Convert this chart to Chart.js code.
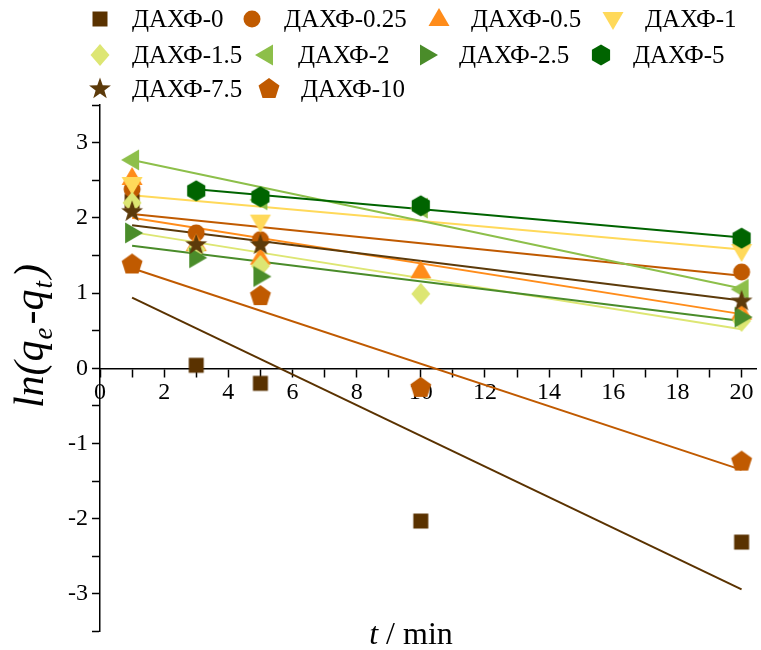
<!DOCTYPE html>
<html>
<head>
<meta charset="utf-8">
<title>ln(qe-qt) vs t</title>
<script src="https://cdn.jsdelivr.net/npm/chart.js@4.4.1/dist/chart.umd.min.js"></script>
<style>
    html, body { margin: 0; padding: 0; background: #fff; }
    #wrap { width: 761px; height: 650px; position: relative; }
</style>
</head>
<body>
<div id="wrap"><canvas id="kineticsChart"></canvas></div>
<script>
// Pseudo-first-order plot: ln(qe - qt) against contact time

const times = [1, 3, 5, 10, 20];
const seriesNames = ['ДАХФ-0', 'ДАХФ-0.25', 'ДАХФ-0.5', 'ДАХФ-1', 'ДАХФ-1.5',
    'ДАХФ-2', 'ДАХФ-2.5', 'ДАХФ-5', 'ДАХФ-7.5', 'ДАХФ-10'];

// measured points, one value per time (null = no point)
const daxf0 = [2.22, 0.04, -0.20, -2.03, -2.31];
const daxf025 = [2.38, 1.80, 1.71, null, 1.28];
const daxf05 = [2.53, 1.65, 1.47, 1.29, 0.74];
const daxf1 = [2.45, null, 1.95, null, 1.56];
const daxf15 = [2.20, 1.58, 1.36, 0.99, 0.63];
const daxf2 = [2.77, null, 2.24, 2.13, 1.05];
const daxf25 = [1.80, 1.47, 1.22, null, 0.68];
const daxf5 = [null, 2.36, 2.28, 2.16, 1.73];
const daxf75 = [2.08, 1.64, 1.64, null, 0.89];
const daxf10 = [1.38, null, 0.96, -0.26, -1.24];
const seriesValues = [daxf0, daxf025, daxf05, daxf1, daxf15, daxf2, daxf25, daxf5, daxf75, daxf10];

// linear fits, read at their end points
const fitStartX = [1, 1, 1, 1, 1, 1, 1, 3, 1, 1];
const fitStartY = [0.94, 2.05, 2.00, 2.30, 1.81, 2.77, 1.63, 2.38, 1.90, 1.33];
const fitEndX = [20, 20, 20, 20, 20, 20, 20, 20, 20, 20];
const fitEndY = [-2.94, 1.23, 0.72, 1.58, 0.52, 1.06, 0.63, 1.74, 0.90, -1.35];

const xTickLabels = ['0', '2', '4', '6', '8', '10', '12', '14', '16', '18', '20'];
const yTickLabels = ['-3', '-2', '-1', '0', '1', '2', '3'];

const colors = ['#5a3200', '#c05a00', '#ff8c1a', '#ffd95a', '#dde673',
    '#8dbf4a', '#4a8c2a', '#006400', '#5c3a0a', '#c05a00'];
const shapes = ['square', 'circle', 'up', 'down', 'diamond',
    'left', 'right', 'hexagon', 'star', 'pentagon'];

const SERIF = "'Liberation Serif', 'Times New Roman', serif";

function polygon(g, n, r, rot) {
    for (let k = 0; k < n; k++) {
        const a = rot + k * 2 * Math.PI / n;
        const px = r * Math.cos(a), py = r * Math.sin(a);
        if (k === 0) g.moveTo(px, py); else g.lineTo(px, py);
    }
    g.closePath();
}

function path(g, pts) {
    pts.forEach((p, k) => k === 0 ? g.moveTo(p[0], p[1]) : g.lineTo(p[0], p[1]));
    g.closePath();
}

function makeMarker(shape, color) {
    const size = 26;
    const c = document.createElement('canvas');
    c.width = size;
    c.height = size;
    const g = c.getContext('2d');
    g.translate(size / 2, size / 2);
    g.fillStyle = color;
    g.beginPath();
    switch (shape) {
        case 'square': g.rect(-7.5, -7.5, 15, 15); break;
        case 'circle': g.arc(0, 0, 8.5, 0, Math.PI * 2); break;
        case 'up': path(g, [[0, -11], [10.5, 7], [-10.5, 7]]); break;
        case 'down': path(g, [[0, 11], [10.5, -7], [-10.5, -7]]); break;
        case 'left': path(g, [[-11, 0], [7, -10.5], [7, 10.5]]); break;
        case 'right': path(g, [[11, 0], [-7, -10.5], [-7, 10.5]]); break;
        case 'diamond': path(g, [[0, -11], [9.5, 0], [0, 11], [-9.5, 0]]); break;
        case 'hexagon': polygon(g, 6, 10.5, -Math.PI / 2); break;
        case 'pentagon': polygon(g, 5, 11, -Math.PI / 2); break;
        case 'star': {
            for (let k = 0; k < 10; k++) {
                const r = k % 2 === 0 ? 11.5 : 4.6;
                const a = -Math.PI / 2 + k * Math.PI / 5;
                if (k === 0) g.moveTo(r * Math.cos(a), r * Math.sin(a));
                else g.lineTo(r * Math.cos(a), r * Math.sin(a));
            }
            g.closePath();
            break;
        }
    }
    g.fill();
    return c;
}

const markers = shapes.map((s, i) => makeMarker(s, colors[i]));

// legend slots (marker x, row y)
const legendSlots = [
    [100, 19], [252, 19], [439, 19], [613, 19],
    [100, 55], [266, 55], [427, 55], [601, 55],
    [100, 89], [269, 89]
];

const drawExtras = {
    id: 'drawExtras',
    afterDraw(chart) {
        const ctx = chart.ctx;
        ctx.save();

        // legend
        ctx.font = '25px ' + SERIF;
        ctx.fillStyle = '#000';
        ctx.textBaseline = 'middle';
        ctx.textAlign = 'left';
        seriesNames.forEach((name, i) => {
            const [lx, ly] = legendSlots[i];
            const m = markers[i];
            ctx.drawImage(m, lx - m.width / 2, ly - m.height / 2);
            ctx.fillText(name, lx + 32, ly + 1);
        });

        // x title: t / min
        ctx.textBaseline = 'alphabetic';
        ctx.font = 'italic 32px ' + SERIF;
        const tW = ctx.measureText('t').width;
        ctx.font = '32px ' + SERIF;
        const restW = ctx.measureText(' / min').width;
        let x0 = 411 - (tW + restW) / 2;
        ctx.font = 'italic 32px ' + SERIF;
        ctx.fillText('t', x0, 644);
        ctx.font = '32px ' + SERIF;
        ctx.fillText(' / min', x0 + tW, 644);

        // y title: ln(qe-qt), rotated
        ctx.translate(43, 336);
        ctx.rotate(-Math.PI / 2);
        const parts = [
            ['ln(q', 42, 0, 1], ['e', 27, 9, 3], ['-q', 42, 0, 1], ['t', 27, 9, 3], [')', 42, 0, 0]
        ];
        let total = 0;
        parts.forEach(p => {
            ctx.font = 'italic ' + p[1] + 'px ' + SERIF;
            total += ctx.measureText(p[0]).width + p[3];
        });
        let cx = -total / 2;
        parts.forEach(p => {
            ctx.font = 'italic ' + p[1] + 'px ' + SERIF;
            ctx.fillText(p[0], cx, p[2]);
            cx += ctx.measureText(p[0]).width + p[3];
        });
        ctx.restore();
    }
};

function initKineticsChart() {
    const ctx = document.getElementById('kineticsChart');
    if (!ctx) return;

    const fitSets = seriesNames.map((name, i) => ({
        label: name + ' fit',
        data: [{ x: fitStartX[i], y: fitStartY[i] }, { x: fitEndX[i], y: fitEndY[i] }],
        showLine: true,
        borderColor: colors[i],
        borderWidth: 2,
        pointRadius: 0,
        order: 100 - i
    }));

    const pointSets = seriesNames.map((name, i) => ({
        label: name,
        data: times.map((t, j) => ({ x: t, y: seriesValues[i][j] })).filter(p => p.y !== null),
        showLine: false,
        pointStyle: markers[i],
        backgroundColor: colors[i],
        borderColor: colors[i],
        order: 50 - i
    }));

    new Chart(ctx, {
        type: 'scatter',
        data: { datasets: fitSets.concat(pointSets) },
        options: {
            responsive: true,
            maintainAspectRatio: false,
            animation: false,
            devicePixelRatio: 1,
            layout: { padding: { left: 0, top: 105, right: 5, bottom: 17 } },
            plugins: {
                legend: { display: false },
                tooltip: { enabled: false }
            },
            scales: {
                x: {
                    type: 'linear',
                    position: { y: 0 },
                    min: 0,
                    max: 20.45,
                    border: { color: '#000', width: 1.5 },
                    grid: { drawOnChartArea: false, tickLength: 8, tickColor: '#000', tickWidth: 1.5 },
                    ticks: {
                        stepSize: 1,
                        autoSkip: false,
                        maxRotation: 0,
                        includeBounds: false,
                        padding: 2,
                        color: '#000',
                        font: { family: SERIF, size: 24 },
                        callback: function (value) {
                            return xTickLabels.includes(String(value)) ? String(value) : '';
                        }
                    }
                },
                y: {
                    type: 'linear',
                    position: 'left',
                    min: -3.5,
                    max: 3.5,
                    afterFit: function (scale) { scale.width = 100; },
                    border: { color: '#000', width: 1.5 },
                    grid: { drawOnChartArea: false, tickLength: 8, tickColor: '#000', tickWidth: 1.5 },
                    ticks: {
                        stepSize: 0.5,
                        autoSkip: false,
                        padding: 4,
                        color: '#000',
                        font: { family: SERIF, size: 24 },
                        callback: function (value) {
                            return yTickLabels.includes(String(value)) ? String(value) : '';
                        }
                    }
                }
            }
        },
        plugins: [drawExtras]
    });
}

initKineticsChart();
</script>
</body>
</html>
